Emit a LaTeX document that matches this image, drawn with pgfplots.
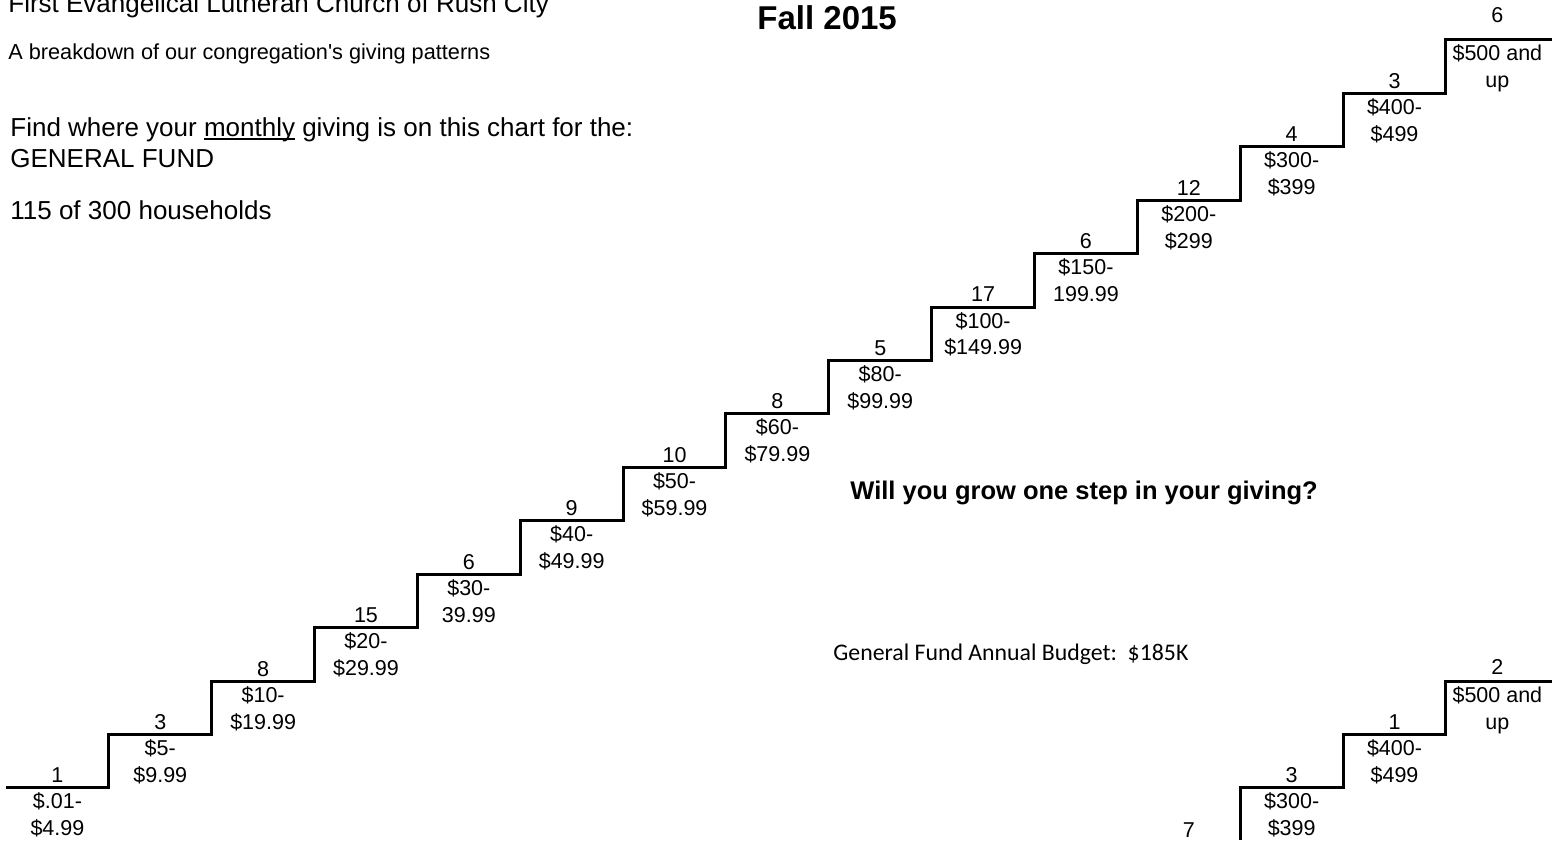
\documentclass[border=0pt]{standalone}
\usepackage{fontspec}
\setmainfont{Liberation Sans}
\newfontfamily\calibri{Carlito}
\usepackage{pgfplots}
\pgfplotsset{compat=1.18}
\newcommand{\steplab}{\fontsize{10.75}{12}\selectfont}
\newcommand{\ulx}[1]{\setbox0=\hbox{#1}\rlap{\rule[-1.6pt]{\wd0}{0.9pt}}#1}
\begin{document}
\begin{tikzpicture}
\begin{axis}[
  scale only axis, width=783.5pt, height=420pt,
  xmin=-0.0583, xmax=15.177, ymin=-0.975, ymax=14.746,
  hide axis, clip=true,
  lab/.style={draw=none, mark=none, nodes near coords, point meta=explicit symbolic,
    nodes near coords align={anchor=base},
    every node near coord/.style={anchor=base, font=\steplab, text=black, inner sep=0pt}},
]
% main staircase (step i at level i)
\addplot[const plot, black, line width=1.5pt, mark=none] coordinates {
 (0,0) (1,1) (2,2) (3,3) (4,4) (5,5) (6,6) (7,7) (8,8) (9,9) (10,10) (11,11) (12,12) (13,13) (14,14) (15.03,14)
};
% second staircase (cut off at bottom)
\addplot[const plot, black, line width=1.5pt, mark=none] coordinates {
 (10,-2) (11,-1) (12,0) (13,1) (14,2) (15.03,2)
};
% household counts
\addplot[lab] coordinates {
 (0.5,0.094) [1] (1.5,1.094) [3] (2.5,2.094) [8] (3.5,3.094) [15] (4.5,4.094) [6]
 (5.5,5.094) [9] (6.5,6.094) [10] (7.5,7.094) [8] (8.5,8.094) [5] (9.5,9.094) [17]
 (10.5,10.094) [6] (11.5,11.094) [12] (12.5,12.094) [4] (13.5,13.094) [3] (14.5,14.318) [6]
};
\addplot[lab] coordinates {
 (11.5,-0.92) [7] (12.5,0.094) [3] (13.5,1.094) [1] (14.5,2.13) [2]
};
% range labels, first line
\addplot[lab] coordinates {
 (0.5,-0.393) [\$.01-] (1.5,0.607) [\$5-] (2.5,1.607) [\$10-] (3.5,2.607) [\$20-]
 (4.5,3.607) [\$30-] (5.5,4.607) [\$40-] (6.5,5.607) [\$50-] (7.5,6.607) [\$60-]
 (8.5,7.607) [\$80-] (9.5,8.607) [\$100-] (10.5,9.607) [\$150-] (11.5,10.607) [\$200-]
 (12.5,11.607) [\$300-] (13.5,12.607) [\$400-] (14.5,13.607) [{\$500 and}]
};
% range labels, second line
\addplot[lab] coordinates {
 (0.5,-0.898) [\$4.99] (1.5,0.102) [\$9.99] (2.5,1.102) [\$19.99] (3.5,2.102) [\$29.99]
 (4.5,3.102) [39.99] (5.5,4.102) [\$49.99] (6.5,5.102) [\$59.99] (7.5,6.102) [\$79.99]
 (8.5,7.102) [\$99.99] (9.5,8.102) [\$149.99] (10.5,9.102) [199.99] (11.5,10.102) [\$299]
 (12.5,11.102) [\$399] (13.5,12.102) [\$499] (14.5,13.102) [up]
};
% second staircase range labels
\addplot[lab] coordinates {
 (12.5,-0.393) [\$300-] (13.5,0.607) [\$400-] (14.5,1.607) [{\$500 and}]
};
\addplot[lab] coordinates {
 (12.5,-0.898) [\$399] (13.5,0.102) [\$499] (14.5,1.102) [up]
};
% texts
\node[anchor=base west, inner sep=0pt, font=\fontsize{13}{15}\selectfont] at (rel axis cs:0.0051,0.98452) {First Evangelical Lutheran Church of Rush City};
\node[anchor=base west, inner sep=0pt, font=\fontsize{10.85}{13}\selectfont] at (rel axis cs:0.0051,0.92857) {A breakdown of our congregation\textquotesingle s giving patterns};
\node[anchor=base west, inner sep=0pt, font=\fontsize{13}{15}\selectfont] at (rel axis cs:0.00638,0.83690) {Find where your \ulx{monthly} giving is on this chart for the:};
\node[anchor=base west, inner sep=0pt, font=\fontsize{13}{15}\selectfont] at (rel axis cs:0.00638,0.8) {GENERAL FUND};
\node[anchor=base west, inner sep=0pt, font=\fontsize{13}{15}\selectfont] at (rel axis cs:0.00638,0.73810) {115 of 300 households};
\node[anchor=base west, inner sep=0pt, font=\fontsize{16.5}{19}\selectfont\bfseries] at (rel axis cs:0.48309,0.96429) {Fall 2015};
\node[anchor=base west, inner sep=0pt, font=\fontsize{12.75}{15}\selectfont\bfseries] at (rel axis cs:0.54244,0.40476) {Will you grow one step in your giving?};
\node[anchor=base west, inner sep=0pt, font=\fontsize{11.9}{14}\selectfont\calibri] at (rel axis cs:0.53159,0.21310) {General Fund Annual Budget:\ \ \$185K};
\end{axis}
\pgfresetboundingbox
\path[use as bounding box] (0,0) rectangle (783.5pt,420pt);
\end{tikzpicture}
\end{document}
